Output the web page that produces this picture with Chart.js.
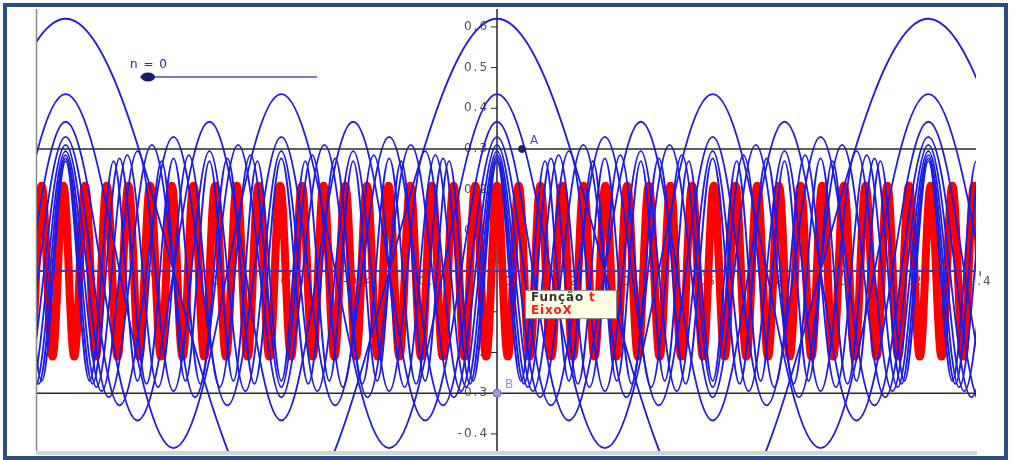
<!DOCTYPE html>
<html>
<head>
<meta charset="utf-8">
<script src="https://cdn.jsdelivr.net/npm/chart.js@4.4.0/dist/chart.umd.min.js"></script>
<style>
  html, body { margin: 0; padding: 0; background: #fff; }
  canvas { display: block; }
</style>
</head>
<body>
<canvas id="funcChart" width="1012" height="460"></canvas>
<script>
// visible window of the graphics view
const xMin = -1.333, xMax = 1.388;
const yMin = -0.442, yMax = 0.644;

// axis ticks
const xTickValues = [-1.2, -1, -0.8, -0.6, -0.4, -0.2, 0, 0.2, 0.4, 0.6, 0.8, 1, 1.2, 1.4];
const xTickLabels = ['-1.2', '-1', '-0.8', '-0.6', '-0.4', '-0.2', '0', '0.2', '0.4', '0.6', '0.8', '1', '1.2', '1.4'];
const yTickValues = [0.6, 0.5, 0.4, 0.3, 0.2, 0.1, -0.1, -0.2, -0.3, -0.4];
const yTickLabels = ['0.6', '0.5', '0.4', '0.3', '0.2', '0.1', '-0.1', '-0.2', '-0.3', '-0.4'];

// horizontal lines through A and B
const guideLevels = [0.3, -0.3];
const markerNames = ['A', 'B'];
const markerX = [0.0725, 0];
const markerY = [0.3, -0.3];
const sliderValue = 0;
const legendTexts = ['Função', 't', 'EixoX'];

// red curve (Função t): x of maxima / minima
const redLevel = 0.21;
const redPeaksX = [-1.3823, -1.3195, -1.2566, -1.1938, -1.1310, -1.0681, -1.0053, -0.9425, -0.8796, -0.8168, -0.7540, -0.6912, -0.6283, -0.5655, -0.5027, -0.4398, -0.3770, -0.3142, -0.2513, -0.1885, -0.1257, -0.0628, 0, 0.0628, 0.1257, 0.1885, 0.2513, 0.3142, 0.3770, 0.4398, 0.5027, 0.5655, 0.6283, 0.6912, 0.7540, 0.8168, 0.8796, 0.9425, 1.0053, 1.0681, 1.1310, 1.1938, 1.2566, 1.3195, 1.3823, 1.4451];
const redTroughsX = [-1.4137, -1.3509, -1.2881, -1.2252, -1.1624, -1.0996, -1.0367, -0.9739, -0.9111, -0.8482, -0.7854, -0.7226, -0.6597, -0.5969, -0.5341, -0.4712, -0.4084, -0.3456, -0.2827, -0.2199, -0.1571, -0.0942, -0.0314, 0.0314, 0.0942, 0.1571, 0.2199, 0.2827, 0.3456, 0.4084, 0.4712, 0.5341, 0.5969, 0.6597, 0.7226, 0.7854, 0.8482, 0.9111, 0.9739, 1.0367, 1.0996, 1.1624, 1.2252, 1.2881, 1.3509, 1.4137, 1.4765];

// blue curves: height of the arches and x of maxima / minima
const blueLevels = [0.62, 0.435, 0.367, 0.33, 0.31, 0.295, 0.285, 0.277, 0.27];
const blue1Peaks = [-2.5, -1.25, 0, 1.25, 2.5];
const blue1Troughs = [-1.875, -0.625, 0.625, 1.875];
const blue2Peaks = [-1.875, -1.25, -0.625, 0, 0.625, 1.25, 1.875];
const blue2Troughs = [-1.5625, -0.9375, -0.3125, 0.3125, 0.9375, 1.5625];
const blue3Peaks = [-1.6667, -1.25, -0.8333, -0.4167, 0, 0.4167, 0.8333, 1.25, 1.6667];
const blue3Troughs = [-1.4583, -1.0417, -0.625, -0.2083, 0.2083, 0.625, 1.0417, 1.4583];
const blue4Peaks = [-1.5625, -1.25, -0.9375, -0.625, -0.3125, 0, 0.3125, 0.625, 0.9375, 1.25, 1.5625];
const blue4Troughs = [-1.4063, -1.0938, -0.7813, -0.4688, -0.1563, 0.1563, 0.4688, 0.7813, 1.0938, 1.4063];
const blue5Peaks = [-1.5, -1.25, -1, -0.75, -0.5, -0.25, 0, 0.25, 0.5, 0.75, 1, 1.25, 1.5];
const blue5Troughs = [-1.375, -1.125, -0.875, -0.625, -0.375, -0.125, 0.125, 0.375, 0.625, 0.875, 1.125, 1.375, 1.625];
const blue6Peaks = [-1.4583, -1.25, -1.0417, -0.8333, -0.625, -0.4167, -0.2083, 0, 0.2083, 0.4167, 0.625, 0.8333, 1.0417, 1.25, 1.4583];
const blue6Troughs = [-1.3542, -1.1458, -0.9375, -0.7292, -0.5208, -0.3125, -0.1042, 0.1042, 0.3125, 0.5208, 0.7292, 0.9375, 1.1458, 1.3542, 1.5625];
const blue7Peaks = [-1.4286, -1.25, -1.0714, -0.8929, -0.7143, -0.5357, -0.3571, -0.1786, 0, 0.1786, 0.3571, 0.5357, 0.7143, 0.8929, 1.0714, 1.25, 1.4286];
const blue7Troughs = [-1.3393, -1.1607, -0.9821, -0.8036, -0.625, -0.4464, -0.2679, -0.0893, 0.0893, 0.2679, 0.4464, 0.625, 0.8036, 0.9821, 1.1607, 1.3393, 1.5179];
const blue8Peaks = [-1.4063, -1.25, -1.0938, -0.9375, -0.7813, -0.625, -0.4688, -0.3125, -0.1563, 0, 0.1563, 0.3125, 0.4688, 0.625, 0.7813, 0.9375, 1.0938, 1.25, 1.4063];
const blue8Troughs = [-1.4844, -1.3281, -1.1719, -1.0156, -0.8594, -0.7031, -0.5469, -0.3906, -0.2344, -0.0781, 0.0781, 0.2344, 0.3906, 0.5469, 0.7031, 0.8594, 1.0156, 1.1719, 1.3281, 1.4844];
const blue9Peaks = [-1.3889, -1.25, -1.1111, -0.9722, -0.8333, -0.6944, -0.5556, -0.4167, -0.2778, -0.1389, 0, 0.1389, 0.2778, 0.4167, 0.5556, 0.6944, 0.8333, 0.9722, 1.1111, 1.25, 1.3889];
const blue9Troughs = [-1.4583, -1.3194, -1.1806, -1.0417, -0.9028, -0.7639, -0.625, -0.4861, -0.3472, -0.2083, -0.0694, 0.0694, 0.2083, 0.3472, 0.4861, 0.625, 0.7639, 0.9028, 1.0417, 1.1806, 1.3194, 1.4583];

const bluePeaks = [blue1Peaks, blue2Peaks, blue3Peaks, blue4Peaks, blue5Peaks, blue6Peaks, blue7Peaks, blue8Peaks, blue9Peaks];
const blueTroughs = [blue1Troughs, blue2Troughs, blue3Troughs, blue4Troughs, blue5Troughs, blue6Troughs, blue7Troughs, blue8Troughs, blue9Troughs];

// merge maxima and minima into one sorted list of points
function wavePoints(peaks, troughs, level) {
  const pts = peaks.map(x => ({ x: x, y: level }))
    .concat(troughs.map(x => ({ x: x, y: -level })));
  return pts.sort((a, b) => a.x - b.x);
}

function hLine(level) {
  return [{ x: xMin, y: level }, { x: xMax, y: level }];
}

const FONT = '"DejaVu Sans", "Liberation Sans", sans-serif';

// frame, view border, axes and tick labels
const backdrop = {
  id: 'backdrop',
  beforeDraw(chart) {
    const ctx = chart.ctx;
    const area = chart.chartArea;
    ctx.save();
    ctx.fillStyle = '#ffffff';
    ctx.fillRect(0, 0, chart.width, chart.height);
    ctx.strokeStyle = '#2b4f80';
    ctx.lineWidth = 4;
    ctx.strokeRect(5, 5, 1001, 453);
    ctx.fillStyle = '#d4d4d4';
    ctx.fillRect(area.left - 1, area.bottom, area.right - area.left + 2, 4);
    ctx.strokeStyle = '#8a8a8a';
    ctx.lineWidth = 1.5;
    ctx.beginPath();
    ctx.moveTo(area.left - 0.5, area.top);
    ctx.lineTo(area.left - 0.5, area.bottom);
    ctx.stroke();
    ctx.restore();
  },
  beforeDatasetsDraw(chart) {
    const ctx = chart.ctx;
    const area = chart.chartArea;
    const xs = chart.scales.x, ys = chart.scales.y;
    const x0 = xs.getPixelForValue(0);
    const y0 = ys.getPixelForValue(0);
    ctx.save();
    ctx.strokeStyle = '#262626';
    ctx.lineWidth = 1.5;
    ctx.beginPath();
    ctx.moveTo(x0, area.top);
    ctx.lineTo(x0, area.bottom);
    ctx.moveTo(area.left, y0);
    ctx.lineTo(area.right, y0);
    ctx.stroke();

    ctx.font = '12px ' + FONT;
    ctx.letterSpacing = '2px';
    ctx.fillStyle = '#505050';
    ctx.lineWidth = 1;
    ctx.textAlign = 'right';
    ctx.textBaseline = 'middle';
    yTickValues.forEach((v, i) => {
      const py = ys.getPixelForValue(v);
      ctx.beginPath();
      ctx.moveTo(x0 - 6, py);
      ctx.lineTo(x0, py);
      ctx.stroke();
      ctx.fillText(yTickLabels[i], x0 - 8, py);
    });
    ctx.textBaseline = 'top';
    xTickValues.forEach((v, i) => {
      const px = xs.getPixelForValue(v);
      if (v !== 0) {
        ctx.beginPath();
        ctx.moveTo(px, y0);
        ctx.lineTo(px, y0 + 5);
        ctx.stroke();
        ctx.textAlign = 'center';
        ctx.fillText(xTickLabels[i], px, y0 + 5);
      } else {
        ctx.textAlign = 'left';
        ctx.fillText(xTickLabels[i], px + 7, y0 + 5);
      }
    });
    ctx.restore();
  },
  afterDatasetsDraw(chart) {
    const ctx = chart.ctx;
    const area = chart.chartArea;
    const xs = chart.scales.x, ys = chart.scales.y;
    ctx.save();
    // point labels
    ctx.font = '12px ' + FONT;
    ctx.textAlign = 'left';
    ctx.textBaseline = 'middle';
    const labelColors = ['#4a4ab4', '#8e8ee6'];
    markerNames.forEach((name, i) => {
      ctx.fillStyle = labelColors[i];
      ctx.fillText(name, xs.getPixelForValue(markerX[i]) + 8, ys.getPixelForValue(markerY[i]) - 8);
    });

    // slider n
    const sx = area.left + 103, sy = area.top + 68;
    ctx.fillStyle = '#2c2c8a';
    ctx.font = '12px ' + FONT;
    ctx.letterSpacing = '1px';
    ctx.fillText('n = ' + sliderValue, area.left + 93, area.top + 56);
    ctx.strokeStyle = '#4848d8';
    ctx.lineWidth = 1.5;
    ctx.beginPath();
    ctx.moveTo(sx, sy);
    ctx.lineTo(sx + 177, sy);
    ctx.stroke();
    ctx.fillStyle = '#1c1c68';
    ctx.beginPath();
    ctx.ellipse(sx + 8, sy, 7, 4.5, 0, 0, Math.PI * 2);
    ctx.fill();

    // legend box
    const bx = xs.getPixelForValue(0) + 28, by = ys.getPixelForValue(0) + 19;
    ctx.fillStyle = '#ffffe4';
    ctx.fillRect(bx, by, 91, 28);
    ctx.strokeStyle = '#8a8a8a';
    ctx.lineWidth = 1;
    ctx.strokeRect(bx + 0.5, by + 0.5, 91, 28);
    ctx.font = 'bold 12px ' + FONT;
    ctx.letterSpacing = '0.8px';
    ctx.fillStyle = '#333333';
    ctx.fillText(legendTexts[0], bx + 6, by + 8);
    const w = ctx.measureText(legendTexts[0] + ' ').width;
    ctx.fillStyle = '#ff1a1a';
    ctx.fillText(legendTexts[1], bx + 6 + w, by + 8);
    ctx.fillText(legendTexts[2], bx + 6, by + 21);
    ctx.restore();
  }
};

const blueDatasets = bluePeaks.map((peaks, i) => ({
  label: 'curve ' + (i + 1),
  data: wavePoints(peaks, blueTroughs[i], blueLevels[i]),
  showLine: true,
  borderColor: '#1c1ce2',
  borderWidth: 1.8,
  pointRadius: 0,
  clip: 0
}));

const datasets = [
  {
    label: 'EixoX',
    data: hLine(0),
    showLine: true,
    borderColor: '#3434d4',
    borderWidth: 1.5,
    pointRadius: 0,
    clip: 0
  },
  {
    label: 'A',
    data: [{ x: markerX[0], y: markerY[0] }],
    pointRadius: 3.5,
    backgroundColor: '#1f1f6a',
    borderColor: '#1f1f6a'
  },
  {
    label: 'B',
    data: [{ x: markerX[1], y: markerY[1] }],
    pointRadius: 4,
    backgroundColor: '#9c9cd8',
    borderColor: '#6a6ab4',
    borderWidth: 1
  },
  ...guideLevels.map(l => ({
    label: 'line ' + l,
    data: hLine(l),
    showLine: true,
    borderColor: '#2a2a2a',
    borderWidth: 1.5,
    pointRadius: 0,
    clip: 0
  })),
  ...blueDatasets,
  {
    label: 'Função t',
    data: wavePoints(redPeaksX, redTroughsX, redLevel),
    showLine: true,
    borderColor: '#ff0000',
    borderWidth: 8,
    borderCapStyle: 'round',
    borderJoinStyle: 'round',
    pointRadius: 0,
    clip: 0
  }
];

new Chart(document.getElementById('funcChart'), {
  type: 'scatter',
  data: { datasets: datasets },
  options: {
    responsive: false,
    animation: false,
    events: [],
    layout: { padding: { left: 37, right: 36, top: 9, bottom: 9 } },
    elements: {
      line: { tension: 0.364, capBezierPoints: false }
    },
    plugins: {
      legend: { display: false },
      tooltip: { enabled: false }
    },
    scales: {
      x: { type: 'linear', min: xMin, max: xMax, display: false },
      y: { type: 'linear', min: yMin, max: yMax, display: false }
    }
  },
  plugins: [backdrop]
});
</script>
</body>
</html>
